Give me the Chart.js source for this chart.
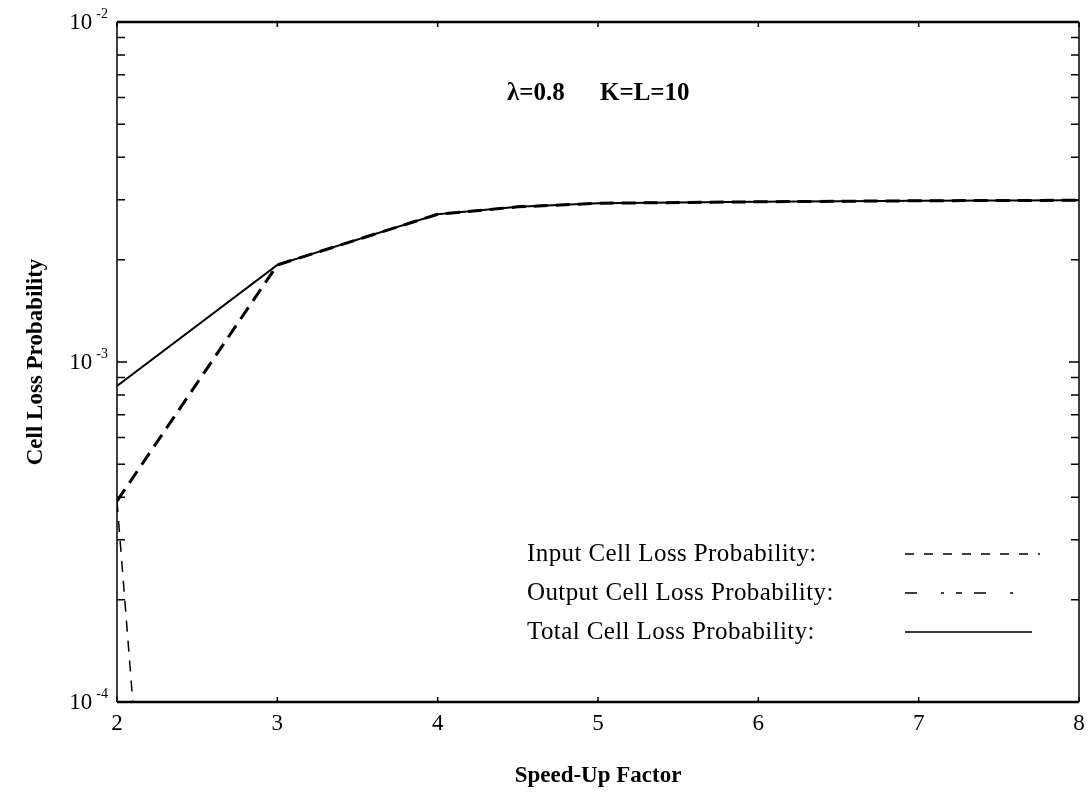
<!DOCTYPE html>
<html>
<head>
<meta charset="utf-8">
<title>Cell Loss Probability vs Speed-Up Factor</title>
<script src="https://cdn.jsdelivr.net/npm/chart.js@4.4.1/dist/chart.umd.min.js"></script>
<style>
  html, body { margin: 0; padding: 0; background: #fff; }
  #wrap { width: 1088px; height: 799px; }
</style>
</head>
<body>
<div id="wrap"><canvas id="lossChart"></canvas></div>
<script>
// data
const speedUp = [2, 3, 4, 4.5, 5, 6, 7, 8];
const inputLoss = [3.9e-4, 4.0e-10, 3.0e-14, 2.0e-16, 1.0e-17, 1.0e-19, 1.0e-21, 1.0e-23];
const outputLoss = [3.9e-4, 1.93e-3, 2.72e-3, 2.86e-3, 2.93e-3, 2.96e-3, 2.98e-3, 2.99e-3];
const totalLoss = [8.5e-4, 1.93e-3, 2.72e-3, 2.86e-3, 2.93e-3, 2.96e-3, 2.98e-3, 2.99e-3];

const xTicks = [2, 3, 4, 5, 6, 7, 8];
const yTicks = [1e-4, 2e-4, 3e-4, 4e-4, 5e-4, 6e-4, 7e-4, 8e-4, 9e-4,
                1e-3, 2e-3, 3e-3, 4e-3, 5e-3, 6e-3, 7e-3, 8e-3, 9e-3, 1e-2];
const yMajorTicks = [1e-4, 1e-3, 1e-2];
const yMajorExp = ['-4', '-3', '-2'];

const seriesLabels = ['Input Cell Loss Probability:', 'Output Cell Loss Probability:', 'Total Cell Loss Probability:'];
const noteLeft = '\u03bb=0.8';
const noteRight = 'K=L=10';

const SERIF = '"Liberation Serif", "Times New Roman", serif';

function toPoints(ys) {
    return speedUp.map((x, i) => ({ x: x, y: ys[i] }));
}

// frame, inward ticks, y labels with exponents, note, legend
const decorPlugin = {
    id: 'decor',
    afterDraw(chart) {
        const ctx = chart.ctx;
        const area = chart.chartArea;
        const xs = chart.scales.x;
        const ys = chart.scales.y;
        ctx.save();
        ctx.strokeStyle = '#000';
        ctx.fillStyle = '#000';

        // frame
        ctx.lineWidth = 2.5;
        ctx.beginPath();
        ctx.moveTo(area.left, area.top); ctx.lineTo(area.right, area.top);
        ctx.moveTo(area.left, area.bottom); ctx.lineTo(area.right, area.bottom);
        ctx.stroke();
        ctx.lineWidth = 1.5;
        ctx.beginPath();
        ctx.moveTo(area.left, area.top); ctx.lineTo(area.left, area.bottom);
        ctx.moveTo(area.right, area.top); ctx.lineTo(area.right, area.bottom);
        ctx.stroke();

        // y ticks both sides
        ctx.lineWidth = 1.5;
        yTicks.forEach(v => {
            const y = ys.getPixelForValue(v);
            const len = yMajorTicks.includes(v) ? 10 : 8;
            ctx.beginPath();
            ctx.moveTo(area.left, y); ctx.lineTo(area.left + len, y);
            ctx.moveTo(area.right, y); ctx.lineTo(area.right - len, y);
            ctx.stroke();
        });
        // x ticks top and bottom
        xTicks.forEach(v => {
            const x = xs.getPixelForValue(v);
            ctx.beginPath();
            ctx.moveTo(x, area.bottom); ctx.lineTo(x, area.bottom - 5);
            ctx.moveTo(x, area.top); ctx.lineTo(x, area.top + 5);
            ctx.stroke();
        });

        // y labels 10^n
        ctx.textBaseline = 'middle';
        ctx.textAlign = 'right';
        yMajorTicks.forEach((v, i) => {
            const y = ys.getPixelForValue(v);
            const rightX = area.left - 9;
            ctx.font = '14px ' + SERIF;
            const supW = ctx.measureText(yMajorExp[i]).width;
            ctx.fillText(yMajorExp[i], rightX, y - 8);
            ctx.font = '23px ' + SERIF;
            ctx.fillText('10', rightX - supW - 4, y + 1);
        });

        // annotation
        ctx.font = 'bold 25px ' + SERIF;
        ctx.textAlign = 'left';
        ctx.fillText(noteLeft, area.left + 390, area.top + 72);
        ctx.fillText(noteRight, area.left + 483, area.top + 72);

        // legend
        ctx.font = '25px ' + SERIF;
        ctx.letterSpacing = '0.4px';
        chart.data.datasets.forEach((ds, i) => {
            const y = area.top + 532 + i * 39;
            ctx.fillText(ds.label, area.left + 410, y);
            ctx.save();
            ctx.lineWidth = 1.3;
            ctx.setLineDash(ds.legendDash);
            ctx.beginPath();
            ctx.moveTo(area.left + 788, y);
            ctx.lineTo(area.left + ds.legendEnd, y);
            ctx.stroke();
            ctx.restore();
        });
        ctx.restore();
    }
};

new Chart(document.getElementById('lossChart'), {
    type: 'line',
    data: {
        datasets: [
            {
                label: seriesLabels[0],
                data: toPoints(inputLoss),
                borderColor: '#000',
                borderWidth: 1.5,
                borderDash: [11, 9],
                legendDash: [9, 10],
                legendEnd: 923,
                pointRadius: 0,
                fill: false,
                order: 2
            },
            {
                label: seriesLabels[1],
                data: toPoints(outputLoss),
                borderColor: '#000',
                borderWidth: 3,
                borderDash: [14, 8],
                legendDash: [12, 24, 3, 12, 6, 12],
                legendEnd: 905,
                pointRadius: 0,
                fill: false,
                order: 1
            },
            {
                label: seriesLabels[2],
                data: toPoints(totalLoss),
                borderColor: '#000',
                borderWidth: 2,
                borderDash: [],
                legendDash: [],
                legendEnd: 915,
                pointRadius: 0,
                fill: false,
                order: 3
            }
        ]
    },
    options: {
        responsive: true,
        maintainAspectRatio: false,
        animation: false,
        devicePixelRatio: 1,
        layout: { padding: { top: 22, right: 9, left: 0, bottom: 0 } },
        plugins: {
            legend: { display: false },
            tooltip: { enabled: false }
        },
        scales: {
            x: {
                type: 'linear',
                min: 2,
                max: 8,
                afterBuildTicks: scale => { scale.ticks = xTicks.map(v => ({ value: v })); },
                afterFit: scale => {
                    scale.height = 97;
                    scale.paddingLeft = 0;
                    scale.paddingRight = 0;
                },
                grid: { display: false },
                border: { display: false },
                ticks: {
                    color: '#000',
                    padding: 0,
                    maxRotation: 0,
                    font: { family: SERIF, size: 23 }
                },
                title: {
                    display: true,
                    text: 'Speed-Up Factor',
                    color: '#000',
                    font: { family: SERIF, size: 23, weight: 'bold' },
                    padding: { top: 0, bottom: 9 }
                }
            },
            y: {
                type: 'logarithmic',
                min: 1e-4,
                max: 1e-2,
                afterBuildTicks: scale => { scale.ticks = yTicks.map(v => ({ value: v })); },
                afterFit: scale => { scale.width = 117; },
                grid: { display: false },
                border: { display: false },
                ticks: { display: false },
                title: {
                    display: true,
                    text: 'Cell Loss Probability',
                    color: '#000',
                    font: { family: SERIF, size: 23, weight: 'bold' },
                    padding: { top: 22, bottom: 0 }
                }
            }
        }
    },
    plugins: [decorPlugin]
});
</script>
</body>
</html>
